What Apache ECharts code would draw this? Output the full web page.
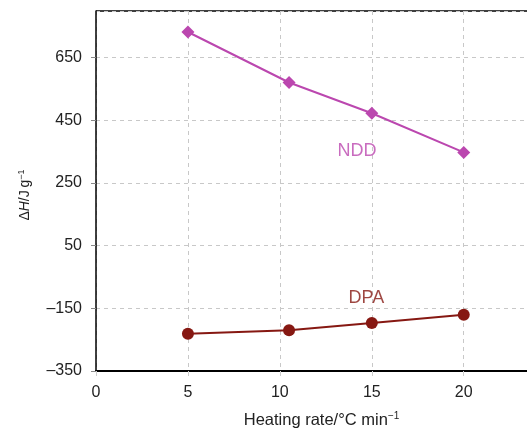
<!DOCTYPE html>
<html><head><meta charset="utf-8">
<script src="https://cdn.jsdelivr.net/npm/echarts@6/dist/echarts.min.js"></script>
<style>html,body{margin:0;padding:0;background:#fff}#c{width:527px;height:429px}</style>
</head><body><div id="c"></div>
<script>
const heatingRates = [5, 10.5, 15, 20];
const nddValues = [731, 570, 472, 347];
const dpaValues = [-231, -220, -197, -171];
const seriesNames = ['NDD', 'DPA'];
const labelPositions = { NDD: [14.2, 351], DPA: [14.7, -116] };

const font = 'Liberation Sans, Arial, Helvetica, sans-serif';
const nddColor = '#BB47AF';
const dpaColor = '#861812';
const txt = '#222';
const chart = echarts.init(document.getElementById('c'));
chart.setOption({
  animation: false,
  grid: { left: 96, top: 11, right: 0, bottom: 58, show: false, containLabel: false, outerBoundsMode: 'none' },
  xAxis: {
    type: 'value', min: 0, max: 23.44, interval: 5,
    name: '{a|Heating rate/°C min}{s|−1}', nameLocation: 'middle', nameGap: 40,
    nameTextStyle: { padding: [0, 0, 0, 20], rich: { a: { fontFamily: font, fontSize: 16.5, color: txt }, s: { fontFamily: font, fontSize: 10, color: txt, verticalAlign: 'top', padding: [0,0,9,0] } } },
    axisLine: { show: true, onZero: false, lineStyle: { color: '#000', width: 2 } },
    axisTick: { show: true, length: 5, lineStyle: { color: '#ccc' } },
    axisLabel: { fontFamily: font, fontSize: 16, color: txt, margin: 14, showMaxLabel: false },
    splitLine: { show: true, lineStyle: { type: [4, 4], color: '#c8c8c8', width: 1 } }
  },
  yAxis: {
    type: 'value', min: -350, max: 798, interval: 200,
    name: '{d|Δ}{i|H}{a|/J\u2009g}{s|−1}', nameLocation: 'middle', nameGap: 62,
    nameTextStyle: { padding: [0, 8, 0, 0], rich: {
      d: { fontFamily: font, fontSize: 14, color: txt },
      i: { fontFamily: font, fontSize: 14, color: txt, fontStyle: 'italic' },
      a: { fontFamily: font, fontSize: 14, color: txt },
      s: { fontFamily: font, fontSize: 9, color: txt, verticalAlign: 'top', padding: [0,0,8,0] } } },
    axisLine: { show: true, onZero: false, lineStyle: { color: '#000', width: 1.5 } },
    axisTick: { show: true, length: 5, lineStyle: { color: '#888' } },
    axisLabel: { fontFamily: font, fontSize: 16, color: txt, margin: 14, showMaxLabel: false,
      formatter: v => String(v).replace('-', '\u2013') },
    splitLine: { show: true, lineStyle: { type: [4, 4], color: '#c8c8c8', width: 1 } }
  },
  graphic: [{ type: 'line', shape: { x1: 96, y1: 11, x2: 527, y2: 11 }, style: { stroke: '#000', lineWidth: 1.5 } }],
  series: [
    { name: seriesNames[0], type: 'line', data: heatingRates.map((x, i) => [x, nddValues[i]]),
      symbol: 'diamond', symbolSize: 13, lineStyle: { color: nddColor, width: 2 }, itemStyle: { color: nddColor } },
    { name: seriesNames[1], type: 'line', data: heatingRates.map((x, i) => [x, dpaValues[i]]),
      symbol: 'circle', symbolSize: 12, lineStyle: { color: dpaColor, width: 2 }, itemStyle: { color: dpaColor } },
    { type: 'scatter', symbolSize: 0, silent: true,
      data: seriesNames.map(n => ({ value: labelPositions[n], label: { show: true, formatter: n, position: 'inside', fontFamily: font, fontSize: 18, textBorderWidth: 0, color: n === 'NDD' ? nddColor : dpaColor } })) }
  ]
});
</script></body></html>
